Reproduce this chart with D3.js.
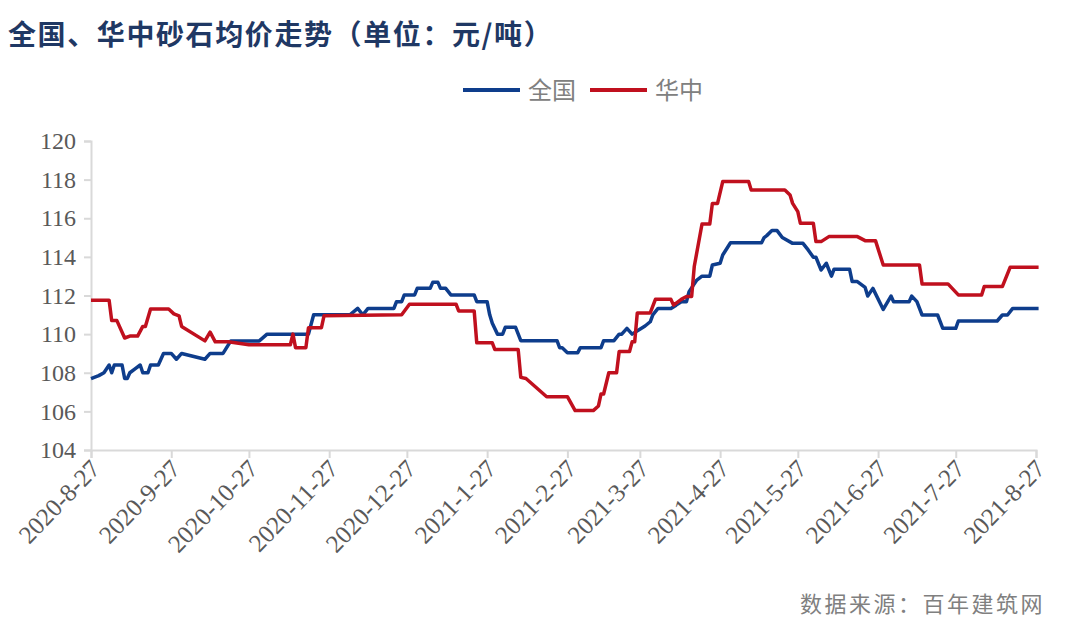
<!DOCTYPE html>
<html><head><meta charset="utf-8">
<script src="https://cdn.jsdelivr.net/npm/d3@7"></script>
<style>body{margin:0;background:#fff}svg{display:block}</style>
</head><body>
<script>
const titleText = "全国、华中砂石均价走势（单位：元/吨）";
const sourceText = "数据来源：百年建筑网";
const seriesNames = ["全国", "华中"];
const xTickLabels = ["2020-8-27","2020-9-27","2020-10-27","2020-11-27","2020-12-27","2021-1-27","2021-2-27","2021-3-27","2021-4-27","2021-5-27","2021-6-27","2021-7-27","2021-8-27"];
const yTicks = [104,106,108,110,112,114,116,118,120];

const nationalDates = ["2020-08-27","2020-08-30","2020-09-01","2020-09-03","2020-09-04","2020-09-05","2020-09-08","2020-09-09","2020-09-10","2020-09-11","2020-09-13","2020-09-15","2020-09-16","2020-09-18","2020-09-19","2020-09-22","2020-09-24","2020-09-27","2020-09-29","2020-10-01","2020-10-10","2020-10-12","2020-10-17","2020-10-20","2020-10-31","2020-11-03","2020-11-19","2020-11-21","2020-12-05","2020-12-08","2020-12-10","2020-12-12","2020-12-22","2020-12-23","2020-12-25","2020-12-26","2020-12-30","2020-12-31","2021-01-05","2021-01-06","2021-01-08","2021-01-09","2021-01-11","2021-01-13","2021-01-22","2021-01-23","2021-01-27","2021-01-28","2021-01-29","2021-01-31","2021-02-02","2021-02-03","2021-02-07","2021-02-09","2021-02-23","2021-02-24","2021-02-25","2021-02-27","2021-03-03","2021-03-04","2021-03-12","2021-03-13","2021-03-17","2021-03-19","2021-03-20","2021-03-22","2021-03-24","2021-03-27","2021-03-29","2021-03-31","2021-04-01","2021-04-03","2021-04-08","2021-04-10","2021-04-12","2021-04-14","2021-04-15","2021-04-18","2021-04-20","2021-04-23","2021-04-24","2021-04-27","2021-04-28","2021-05-01","2021-05-13","2021-05-14","2021-05-15","2021-05-17","2021-05-19","2021-05-21","2021-05-25","2021-05-29","2021-05-31","2021-06-02","2021-06-03","2021-06-05","2021-06-07","2021-06-09","2021-06-10","2021-06-16","2021-06-17","2021-06-19","2021-06-22","2021-06-23","2021-06-25","2021-06-29","2021-07-02","2021-07-03","2021-07-09","2021-07-10","2021-07-12","2021-07-14","2021-07-20","2021-07-22","2021-07-27","2021-07-28","2021-08-12","2021-08-14","2021-08-16","2021-08-18","2021-08-28"];
const nationalValues = [107.7,107.85,108.0,108.4,108.0,108.4,108.4,107.7,107.7,108.0,108.2,108.4,108.0,108.0,108.4,108.4,109.0,109.0,108.7,109.0,108.7,109.0,109.0,109.65,109.65,110.0,110.0,111.0,111.0,111.33,111.0,111.33,111.33,111.68,111.68,112.03,112.03,112.37,112.37,112.68,112.68,112.37,112.37,112.03,112.03,111.68,111.68,111.0,110.56,110.0,110.0,110.35,110.35,109.66,109.66,109.3,109.3,109.04,109.04,109.3,109.3,109.66,109.66,110.0,110.0,110.3,110.0,110.25,110.42,110.64,111.0,111.33,111.33,111.5,111.68,111.68,112.2,112.8,113.0,113.0,113.58,113.67,114.1,114.73,114.73,115.0,115.1,115.36,115.36,115.0,114.7,114.7,114.36,113.98,113.98,113.32,113.67,113.0,113.36,113.36,112.72,112.72,112.42,111.97,112.37,111.28,111.97,111.68,111.68,111.97,111.68,110.99,110.99,110.3,110.3,110.68,110.68,110.99,110.99,111.33,111.33];

const centralDates = ["2020-08-27","2020-09-03","2020-09-04","2020-09-06","2020-09-09","2020-09-11","2020-09-14","2020-09-16","2020-09-17","2020-09-19","2020-09-26","2020-09-28","2020-09-30","2020-10-01","2020-10-10","2020-10-12","2020-10-14","2020-10-19","2020-10-27","2020-11-12","2020-11-13","2020-11-14","2020-11-18","2020-11-19","2020-11-24","2020-11-25","2020-12-25","2020-12-28","2021-01-15","2021-01-16","2021-01-22","2021-01-23","2021-01-29","2021-01-30","2021-02-08","2021-02-09","2021-02-11","2021-02-19","2021-02-27","2021-03-02","2021-03-09","2021-03-11","2021-03-12","2021-03-13","2021-03-15","2021-03-18","2021-03-19","2021-03-23","2021-03-24","2021-03-25","2021-03-26","2021-03-31","2021-04-02","2021-04-08","2021-04-09","2021-04-12","2021-04-14","2021-04-16","2021-04-17","2021-04-20","2021-04-23","2021-04-24","2021-04-26","2021-04-28","2021-05-08","2021-05-09","2021-05-22","2021-05-24","2021-05-25","2021-05-27","2021-05-28","2021-06-02","2021-06-03","2021-06-05","2021-06-08","2021-06-19","2021-06-22","2021-06-26","2021-06-29","2021-07-13","2021-07-14","2021-07-24","2021-07-28","2021-08-06","2021-08-07","2021-08-14","2021-08-17","2021-08-28"];
const centralValues = [111.75,111.75,110.7,110.7,109.8,109.9,109.9,110.4,110.4,111.3,111.3,111.05,110.95,110.4,109.65,110.1,109.6,109.6,109.45,109.45,110.0,109.3,109.3,110.33,110.33,110.95,111.0,111.55,111.55,111.2,111.2,109.55,109.55,109.2,109.2,107.76,107.7,106.76,106.76,106.04,106.04,106.28,106.9,106.9,108.0,108.0,109.1,109.1,109.6,109.6,111.1,111.1,111.8,111.8,111.5,111.8,111.95,111.95,113.5,115.7,115.7,116.77,116.77,117.9,117.9,117.46,117.46,117.2,116.77,116.34,115.74,115.74,114.79,114.79,115.05,115.05,114.84,114.84,113.58,113.58,112.6,112.6,112.03,112.03,112.46,112.46,113.46,113.46];

const W = 1080, H = 635;
const margin = {left: 91, right: 44, top: 141, bottom: 185};
const parse = d3.timeParse("%Y-%m-%d");
const colors = ["#0E3D8C", "#C0101E"];

const svg = d3.select("body").append("svg").attr("width", W).attr("height", H);

const x = d3.scaleTime()
  .domain([parse("2020-08-27"), parse("2021-08-27")])
  .range([margin.left, W - margin.right]);
const y = d3.scaleLinear().domain([104, 120]).range([H - margin.bottom, margin.top]);

// title
svg.append("text").attr("x", 8).attr("y", 45)
  .attr("font-family", "'Noto Sans CJK SC', sans-serif")
  .attr("font-size", 28).attr("font-weight", "bold").attr("fill", "#1F3864")
  .attr("letter-spacing", 1.6)
  .text(titleText);

// y axis
const yAxis = d3.axisLeft(y).tickValues(yTicks).tickSize(7).tickPadding(8).tickFormat(d3.format("d"));
const gy = svg.append("g").attr("transform", `translate(${margin.left},0)`).call(yAxis);
gy.select(".domain").attr("stroke", "#d9d9d9").attr("stroke-width", 2);
gy.selectAll(".tick line").attr("stroke", "#d9d9d9").attr("stroke-width", 2);
gy.selectAll(".tick text").attr("font-family", "'Liberation Serif', serif").attr("font-size", 24).attr("fill", "#595959");

// x axis
const tickDates = xTickLabels.map(s => { const p = s.split("-"); return new Date(+p[0], +p[1]-1, +p[2]); });
const xAxis = d3.axisBottom(x).tickValues(tickDates).tickSize(8).tickFormat((d,i) => xTickLabels[i]);
const gx = svg.append("g").attr("transform", `translate(0,${H - margin.bottom})`).call(xAxis);
gx.select(".domain").attr("stroke", "#d9d9d9").attr("stroke-width", 2);
gx.selectAll(".tick line").attr("stroke", "#d9d9d9").attr("stroke-width", 2);
gx.selectAll(".tick text")
  .attr("font-family", "'Liberation Serif', serif").attr("font-size", 25).attr("fill", "#595959")
  .attr("text-anchor", "end").attr("dy", 0).attr("y", 0)
  .attr("transform", "translate(10,20) rotate(-46)");

// lines
const line = d3.line().x(d => x(d.date)).y(d => y(d.value));
const national = nationalDates.map((d,i) => ({date: parse(d), value: nationalValues[i]}));
const central = centralDates.map((d,i) => ({date: parse(d), value: centralValues[i]}));
[national, central].forEach((s, i) => {
  svg.append("path").datum(s).attr("d", line).attr("fill", "none")
    .attr("stroke", colors[i]).attr("stroke-width", 3.5).attr("stroke-linejoin", "round");
});

// legend
const legendItems = [{x: 463}, {x: 590}];
legendItems.forEach((it, i) => {
  svg.append("line").attr("x1", it.x).attr("x2", it.x + 57).attr("y1", 90).attr("y2", 90)
    .attr("stroke", colors[i]).attr("stroke-width", 4);
  svg.append("text").attr("x", it.x + 65).attr("y", 99)
    .attr("font-family", "'Noto Sans CJK SC', sans-serif").attr("font-size", 24).attr("fill", "#808080")
    .text(seriesNames[i]);
});

// source
svg.append("text").attr("x", 1045).attr("y", 612).attr("text-anchor", "end")
  .attr("font-family", "'Noto Sans CJK SC', sans-serif").attr("font-size", 22).attr("fill", "#808080")
  .attr("letter-spacing", 2.5)
  .text(sourceText);
</script>
</body></html>
